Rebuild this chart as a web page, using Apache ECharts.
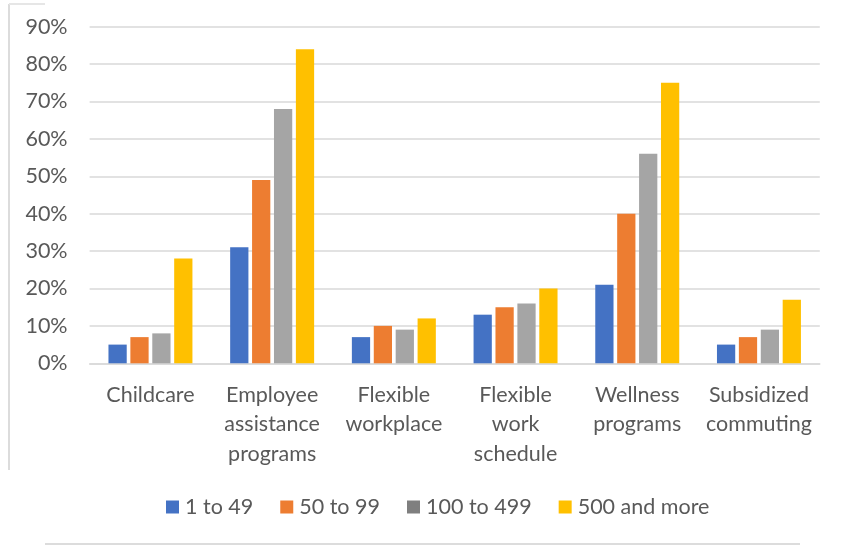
<!DOCTYPE html>
<html>
<head>
<meta charset="utf-8">
<style>
  html, body { margin: 0; padding: 0; background: #ffffff; }
  #chart { width: 844px; height: 550px; }
</style>
<script src="https://cdn.jsdelivr.net/npm/echarts@6/dist/echarts.min.js"></script>
</head>
<body>
<div id="chart"></div>
<script>
// Share of employers offering each benefit, by establishment size
const categories = [
  'Childcare',
  'Employee\nassistance\nprograms',
  'Flexible\nworkplace',
  'Flexible\nwork\nschedule',
  'Wellness\nprograms',
  'Subsidized\ncommuting'
];
const seriesNames = ['1 to 49', '50 to 99', '100 to 499', '500 and more'];
const size1to49 = [5, 31, 7, 13, 21, 5];
const size50to99 = [7, 49, 10, 15, 40, 7];
const size100to499 = [8, 68, 9, 16, 56, 9];
const size500plus = [28, 84, 12, 20, 75, 17];
const yTicks = [0, 10, 20, 30, 40, 50, 60, 70, 80, 90];

const colors = ['#4472C4', '#ED7D31', '#A5A5A5', '#FFC000'];
// legend swatches (the 100–499 swatch is drawn a shade darker)
const legendColors = ['#4472C4', '#ED7D31', '#7F7F7F', '#FFC000'];
const values = [size1to49, size50to99, size100to499, size500plus];
const FONT = 'Lato, "Open Sans", sans-serif';
const TEXT = '#595959';
const FS = 21.5;

const chart = echarts.init(document.getElementById('chart'), null, { renderer: 'canvas' });

chart.setOption({
  animation: false,
  backgroundColor: '#ffffff',
  color: colors,
  grid: { left: 89.6, top: 26.7, width: 730.2, height: 336.6, containLabel: false },
  legend: {
    left: 161,
    top: 491,
    itemWidth: 13,
    itemHeight: 13,
    itemGap: 27,
    icon: 'rect',
    textStyle: { color: TEXT, fontFamily: FONT, fontSize: FS, padding: [0, 0, 0, 1] },
    data: seriesNames.map((n, i) => ({ name: n, itemStyle: { color: legendColors[i] } }))
  },
  xAxis: {
    type: 'category',
    data: categories,
    axisLine: { show: true, lineStyle: { color: '#d9d9d9', width: 1.5 } },
    axisTick: { show: false },
    axisLabel: {
      color: TEXT,
      fontFamily: FONT,
      fontSize: FS,
      lineHeight: 29.5,
      margin: 17,
      interval: 0
    }
  },
  yAxis: {
    type: 'value',
    min: yTicks[0],
    max: yTicks[yTicks.length - 1],
    interval: 10,
    axisLine: { show: false },
    axisTick: { show: false },
    splitLine: { lineStyle: { color: '#d9d9d9', width: 1.5 } },
    axisLabel: {
      color: TEXT,
      fontFamily: FONT,
      fontSize: FS,
      margin: 22,
      formatter: v => v + '%'
    }
  },
  graphic: [
    { type: 'line', shape: { x1: 9, y1: 4, x2: 9, y2: 470 }, style: { stroke: '#dcdcdc', lineWidth: 2 } },
    { type: 'line', shape: { x1: 9, y1: 4, x2: 45, y2: 4 }, style: { stroke: '#e6e6e6', lineWidth: 2 } },
    { type: 'line', shape: { x1: 45, y1: 544, x2: 800, y2: 544 }, style: { stroke: '#dcdcdc', lineWidth: 2 } }
  ],
  series: seriesNames.map((name, i) => ({
    name: name,
    type: 'bar',
    data: values[i],
    barGap: '20%',
    barCategoryGap: '31%',
    itemStyle: { color: colors[i] }
  }))
});
</script>
</body>
</html>
